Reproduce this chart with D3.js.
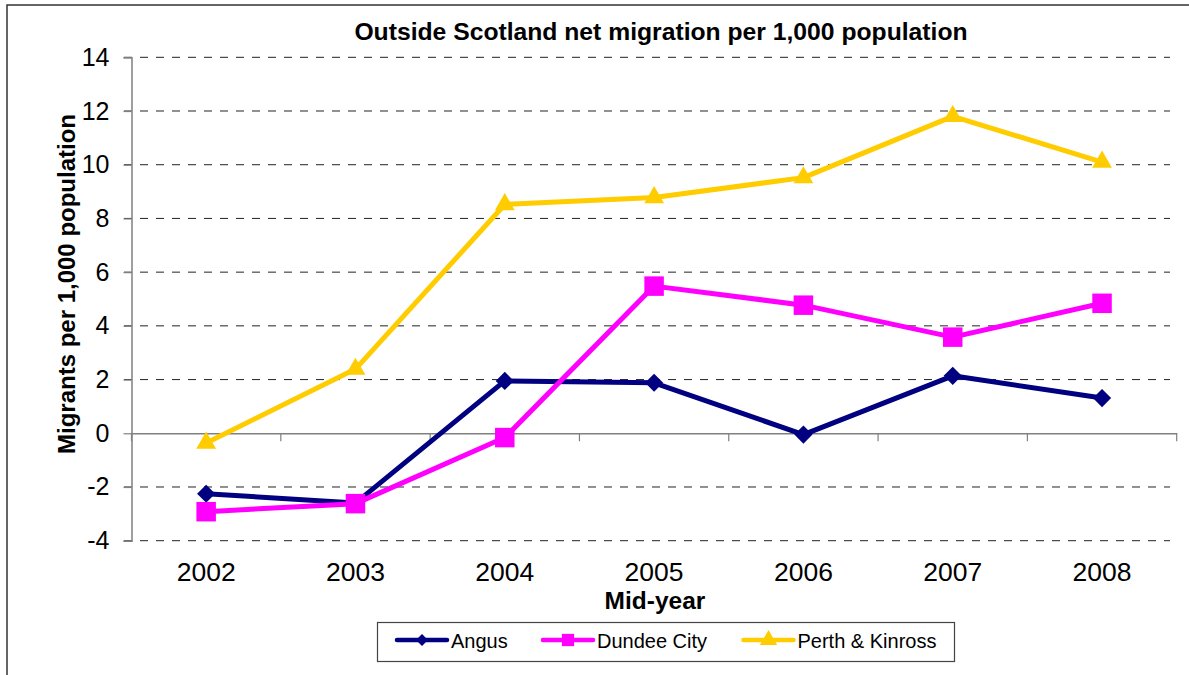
<!DOCTYPE html>
<html><head><meta charset="utf-8">
<script src="https://cdn.jsdelivr.net/npm/d3@7"></script>
<style>body{margin:0;background:#fff;}svg{display:block;font-family:"Liberation Sans",Arial,sans-serif;}</style>
</head><body>
<svg id="c" width="1189" height="675"></svg>
<script>
const years = ["2002","2003","2004","2005","2006","2007","2008"];
const angus = [-2.25,-2.6,1.95,1.88,-0.05,2.14,1.31];
const dundee = [-2.92,-2.62,-0.16,5.48,4.77,3.58,4.84];
const perth = [-0.36,2.39,8.52,8.78,9.52,11.8,10.1];
const yTicks = [-4,-2,0,2,4,6,8,10,12,14];
const seriesNames = ["Angus","Dundee City","Perth & Kinross"];
const seriesColors = ["#000080","#FF00FF","#FFCC00"];
const seriesMarkers = [d3.symbolDiamond2, d3.symbolSquare, d3.symbolTriangle];

const svg = d3.select("#c");
svg.append("rect").attr("x",7).attr("y",5).attr("width",1200).attr("height",700)
  .attr("fill","#fff").attr("stroke","#333").attr("stroke-width",1.5);

const x = d3.scaleBand().domain(years).range([131.5,1176.7]);
const y = d3.scaleLinear().domain([-4,14]).range([540.7,57.3]);

// gridlines
svg.append("g").selectAll("line").data(yTicks.filter(t=>t!==0)).join("line")
  .attr("x1",124).attr("x2",1170).attr("y1",d=>y(d)).attr("y2",d=>y(d))
  .attr("stroke","#222").attr("stroke-width",1).attr("stroke-dasharray","8,8");

// y axis
const ya = svg.append("g").attr("transform","translate(131.5,0)")
  .call(d3.axisLeft(y).tickValues(yTicks).tickSize(8).tickPadding(14).tickFormat(d3.format("d")));
ya.attr("font-size",null).attr("font-family",null);
ya.select(".domain").attr("stroke","#808080").attr("stroke-width",1.5);
ya.selectAll(".tick line").attr("stroke","#808080").attr("stroke-width",1.2);
ya.selectAll("text").style("font-size","25px").attr("fill","#000").text(d=>d<0?"-"+Math.abs(d):d);

// x axis at zero
const xa = svg.append("g").attr("transform",`translate(0,${y(0)})`)
  .call(d3.axisBottom(x).tickSize(0).tickFormat(""));
xa.select(".domain").attr("stroke","#808080").attr("stroke-width",1.5);
const bounds = years.map(d=>x(d)).concat([x.range()[1]]);
svg.append("g").selectAll("line").data(bounds).join("line")
  .attr("x1",d=>d).attr("x2",d=>d).attr("y1",y(0)).attr("y2",y(0)+8)
  .attr("stroke","#808080").attr("stroke-width",1.2);

// x labels
svg.append("g").selectAll("text").data(years).join("text")
  .attr("x",d=>x(d)+x.bandwidth()/2).attr("y",581).attr("text-anchor","middle")
  .style("font-size","26.5px").attr("fill","#000").text(d=>d);

// titles
svg.append("text").attr("x",661).attr("y",40).attr("text-anchor","middle")
  .style("font-size","24.7px").attr("font-weight","bold").text("Outside Scotland net migration per 1,000 population");
svg.append("text").attr("transform","translate(75,284) rotate(-90)").attr("text-anchor","middle")
  .style("font-size","24px").attr("font-weight","bold").text("Migrants per 1,000 population");
svg.append("text").attr("x",655).attr("y",609).attr("text-anchor","middle")
  .style("font-size","24.5px").attr("font-weight","bold").text("Mid-year");

// series
const allSeries = [angus,dundee,perth];
const sizes = [210,380,170];
const line = d3.line().x((d,i)=>x(years[i])+x.bandwidth()/2).y(d=>y(d));
allSeries.forEach((s,k)=>{
  const g = svg.append("g");
  g.append("path").datum(s).attr("d",line).attr("fill","none")
    .attr("stroke",seriesColors[k]).attr("stroke-width",5).attr("stroke-linejoin","round");
  g.selectAll("path.m").data(s).join("path").attr("class","m")
    .attr("transform",(d,i)=>`translate(${x(years[i])+x.bandwidth()/2},${y(d)})`)
    .attr("d",d3.symbol().type(seriesMarkers[k]).size(sizes[k])).attr("fill",seriesColors[k]);
});

// legend
const lg = svg.append("g");
lg.append("rect").attr("x",377.5).attr("y",622.5).attr("width",577).attr("height",39)
  .attr("fill","#fff").attr("stroke","#444").attr("stroke-width",1.2);
const lx = [397,543,743.5];
const lsizes = [90,150,130];
seriesNames.forEach((n,k)=>{
  lg.append("line").attr("x1",lx[k]).attr("x2",lx[k]+50).attr("y1",640).attr("y2",640)
    .attr("stroke",seriesColors[k]).attr("stroke-width",4.5).attr("stroke-linecap","round");
  lg.append("path").attr("transform",`translate(${lx[k]+25},640)`)
    .attr("d",d3.symbol().type(seriesMarkers[k]).size(lsizes[k])).attr("fill",seriesColors[k]);
  lg.append("text").attr("x",lx[k]+54).attr("y",647.5).style("font-size","20px").attr("fill","#000").text(n);
});
</script>
</body></html>
